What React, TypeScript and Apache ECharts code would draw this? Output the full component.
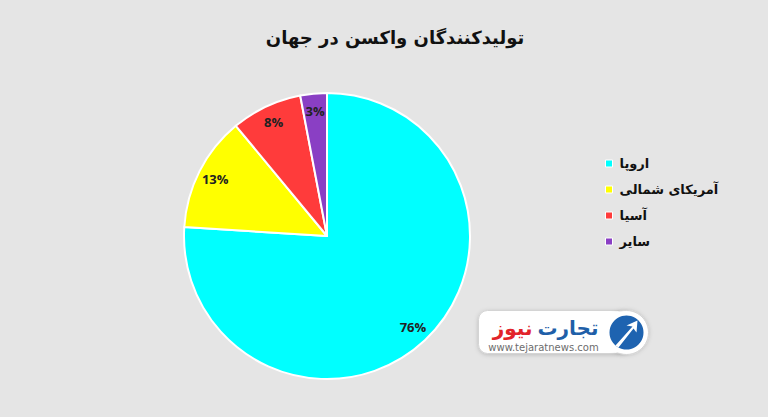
import React, { useEffect, useRef } from "react";
import * as echarts from "echarts";

const titleText = "تولیدکنندگان واکسن در جهان";
const regions = ["اروپا", "آمریکای شمالی", "آسیا", "سایر"];
const shares = [76, 13, 8, 3];
const sliceColors = ["#00FFFF", "#FFFF00", "#FF3B3B", "#8A3FC4"];

const persianFont = "'DejaVu Sans', 'Noto Sans', sans-serif";

export default function App() {
  const ref = useRef<HTMLDivElement>(null);

  useEffect(() => {
    if (!ref.current) return;
    const chart = echarts.init(ref.current, null, { renderer: "svg" });

    const pieData = regions.map((name, i) => ({
      name,
      value: shares[i],
      itemStyle: { color: sliceColors[i] },
    }));

    chart.setOption({
      animation: false,
      backgroundColor: "#e5e5e5",
      title: {
        text: titleText,
        left: 390,
        top: 23,
        textAlign: "center",
        textStyle: {
          fontFamily: persianFont,
          fontSize: 18,
          fontWeight: "bold",
          color: "#111",
        },
      },
      legend: {
        orient: "vertical",
        left: 600,
        top: 152,
        itemWidth: 7,
        itemHeight: 7,
        itemGap: 13,
        icon: "rect",
        selectedMode: false,
        data: regions.map((name, i) => ({
          name,
          itemStyle: { color: sliceColors[i], borderColor: "#fff", borderWidth: 1 },
        })),
        textStyle: {
          fontFamily: persianFont,
          fontSize: 13,
          fontWeight: "bold",
          color: "#111",
          padding: [0, 0, 0, 2],
        },
      },
      series: [
        {
          type: "pie",
          center: [327, 236],
          radius: [0, 143],
          startAngle: 90,
          clockwise: true,
          silent: true,
          label: { show: false },
          labelLine: { show: false },
          itemStyle: { borderColor: "#ffffff", borderWidth: 2 },
          data: pieData,
        },
        {
          // transparent ring carrying the percentage labels near the rim
          type: "pie",
          center: [327, 236],
          radius: [102, 143],
          startAngle: 90,
          clockwise: true,
          silent: true,
          legendHoverLink: false,
          itemStyle: { color: "rgba(0,0,0,0)", borderWidth: 0 },
          label: {
            show: true,
            position: "inside",
            formatter: "{c}%",
            fontFamily: "'Open Sans', 'Liberation Sans', sans-serif",
            fontSize: 13,
            fontWeight: "bold",
            color: "#222",
          },
          labelLine: { show: false },
          data: regions.map((name, i) => ({ name, value: shares[i] })),
        },
      ],
      graphic: [
        {
          type: "group",
          left: 478,
          top: 310,
          children: [
            {
              type: "rect",
              shape: { x: 2, y: 5, width: 150, height: 43, r: 9 },
              style: {
                fill: "#ffffff",
                stroke: "#d4d4d4",
                lineWidth: 1,
                shadowBlur: 4,
                shadowColor: "rgba(0,0,0,0.18)",
                shadowOffsetY: 1,
              },
            },
            {
              type: "circle",
              shape: { cx: 150, cy: 27, r: 22 },
              style: {
                fill: "#ffffff",
                stroke: "#d4d4d4",
                lineWidth: 1,
                shadowBlur: 4,
                shadowColor: "rgba(0,0,0,0.18)",
              },
            },
            {
              type: "rect",
              shape: { x: 120, y: 6, width: 30, height: 41 },
              style: { fill: "#ffffff" },
            },
            {
              type: "circle",
              shape: { cx: 150, cy: 27, r: 17 },
              style: { fill: "#1e63b0" },
            },
            {
              type: "polygon",
              shape: {
                points: [
                  [139, 40],
                  [156, 21],
                  [150, 20],
                  [161, 15],
                  [160, 27],
                  [157, 23],
                  [142, 42],
                ],
              },
              style: { fill: "#ffffff" },
            },
            {
              type: "text",
              style: {
                x: 122,
                y: 22,
                text: "تجارت",
                align: "right",
                verticalAlign: "middle",
                fontFamily: persianFont,
                fontSize: 20,
                fontWeight: "bold",
                fill: "#1f5fa8",
              },
            },
            {
              type: "text",
              style: {
                x: 56,
                y: 22,
                text: "نیوز",
                align: "right",
                verticalAlign: "middle",
                fontFamily: persianFont,
                fontSize: 20,
                fontWeight: "bold",
                fill: "#e2232a",
              },
            },
            {
              type: "text",
              style: {
                x: 67,
                y: 42,
                text: "www.tejaratnews.com",
                align: "center",
                verticalAlign: "middle",
                fontFamily: "'DejaVu Sans', sans-serif",
                fontSize: 10,
                fill: "#6d6d6d",
              },
            },
          ],
        },
      ],
    });

    return () => chart.dispose();
  }, []);

  return (
    <div
      ref={ref}
      style={{ position: "fixed", left: 0, top: 0, width: 768, height: 417 }}
    />
  );
}
